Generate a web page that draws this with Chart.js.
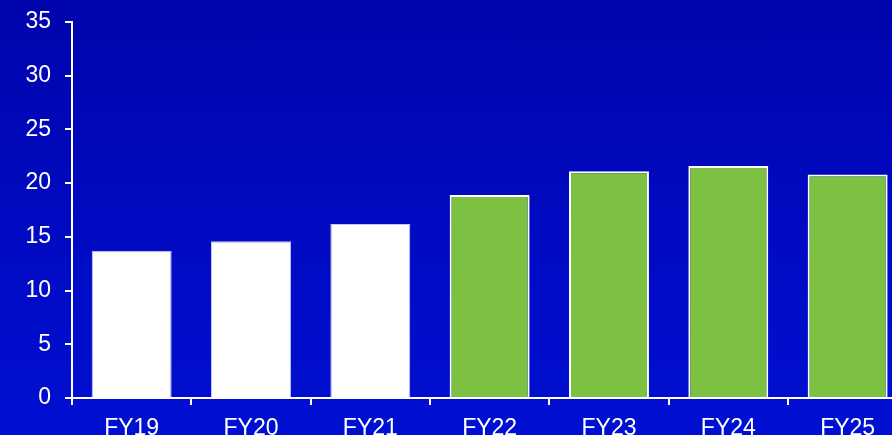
<!DOCTYPE html>
<html>
<head>
<meta charset="utf-8">
<script src="https://cdn.jsdelivr.net/npm/chart.js@4/dist/chart.umd.min.js"></script>
<style>
  html, body { margin: 0; padding: 0; width: 892px; height: 435px; overflow: hidden; }
  body { background: linear-gradient(to bottom, #0004ac 0%, #000bc4 60%, #0010d2 100%); position: relative; }
  #chart { position: absolute; left: 0; top: 0; }
</style>
</head>
<body>
<canvas id="chart" width="920" height="452"></canvas>
<script>
// Fiscal years on the category axis
const years = ['FY19', 'FY20', 'FY21', 'FY22', 'FY23', 'FY24', 'FY25'];
// Reported years (white bars)
const reported = [13.7, 14.6, 16.2, null, null, null, null];
// Later years (green bars)
const projected = [null, null, null, 18.9, 21.1, 21.6, 20.8];
// Value axis ticks
const yTicks = [0, 5, 10, 15, 20, 25, 30, 35];

const AXIS_LEFT = 72;     // y axis position
const AXIS_TOP = 22;      // top of the value axis
const AXIS_BOTTOM = 398;  // zero line position
const LABEL_FONT = { family: '"Liberation Sans", Arial, sans-serif', size: 23 };

const canvas = document.getElementById('chart');

new Chart(canvas, {
  type: 'bar',
  data: {
    labels: years,
    datasets: [
      {
        data: reported,
        backgroundColor: '#ffffff',
        borderColor: '#c8c8ff',
        borderWidth: 1
      },
      {
        data: projected,
        backgroundColor: '#7dc142',
        borderColor: '#ffffff',
        borderWidth: 2
      }
    ]
  },
  options: {
    responsive: false,
    animation: false,
    events: [],
    grouped: false,
    categoryPercentage: 1,
    barPercentage: 0.67,
    layout: {
      padding: { left: 0, top: AXIS_TOP, right: 920 - (AXIS_LEFT + 7 * 119.33), bottom: 0 }
    },
    plugins: {
      legend: { display: false },
      tooltip: { enabled: false },
      title: { display: false }
    },
    scales: {
      x: {
        offset: true,
        border: { display: true, color: '#ffffff', width: 2 },
        grid: {
          offset: true,
          drawOnChartArea: false,
          drawTicks: true,
          tickLength: 7,
          color: '#ffffff',
          lineWidth: 2
        },
        ticks: {
          color: '#ffffff',
          font: LABEL_FONT,
          padding: 10,
          maxRotation: 0,
          autoSkip: false
        },
        afterFit(scale) {
          scale.height = 452 - AXIS_BOTTOM;
          scale.paddingLeft = 0;
          scale.paddingRight = 0;
        }
      },
      y: {
        min: 0,
        max: 35,
        afterBuildTicks(scale) { scale.ticks = yTicks.map(v => ({ value: v })); },
        border: { display: true, color: '#ffffff', width: 2 },
        grid: {
          drawOnChartArea: false,
          drawTicks: true,
          tickLength: 7,
          color: '#ffffff',
          lineWidth: 2
        },
        ticks: {
          color: '#ffffff',
          font: LABEL_FONT,
          padding: 14
        },
        afterFit(scale) {
          scale.width = AXIS_LEFT;
          scale.paddingTop = 0;
          scale.paddingBottom = 0;
        }
      }
    }
  }
});
</script>
</body>
</html>
